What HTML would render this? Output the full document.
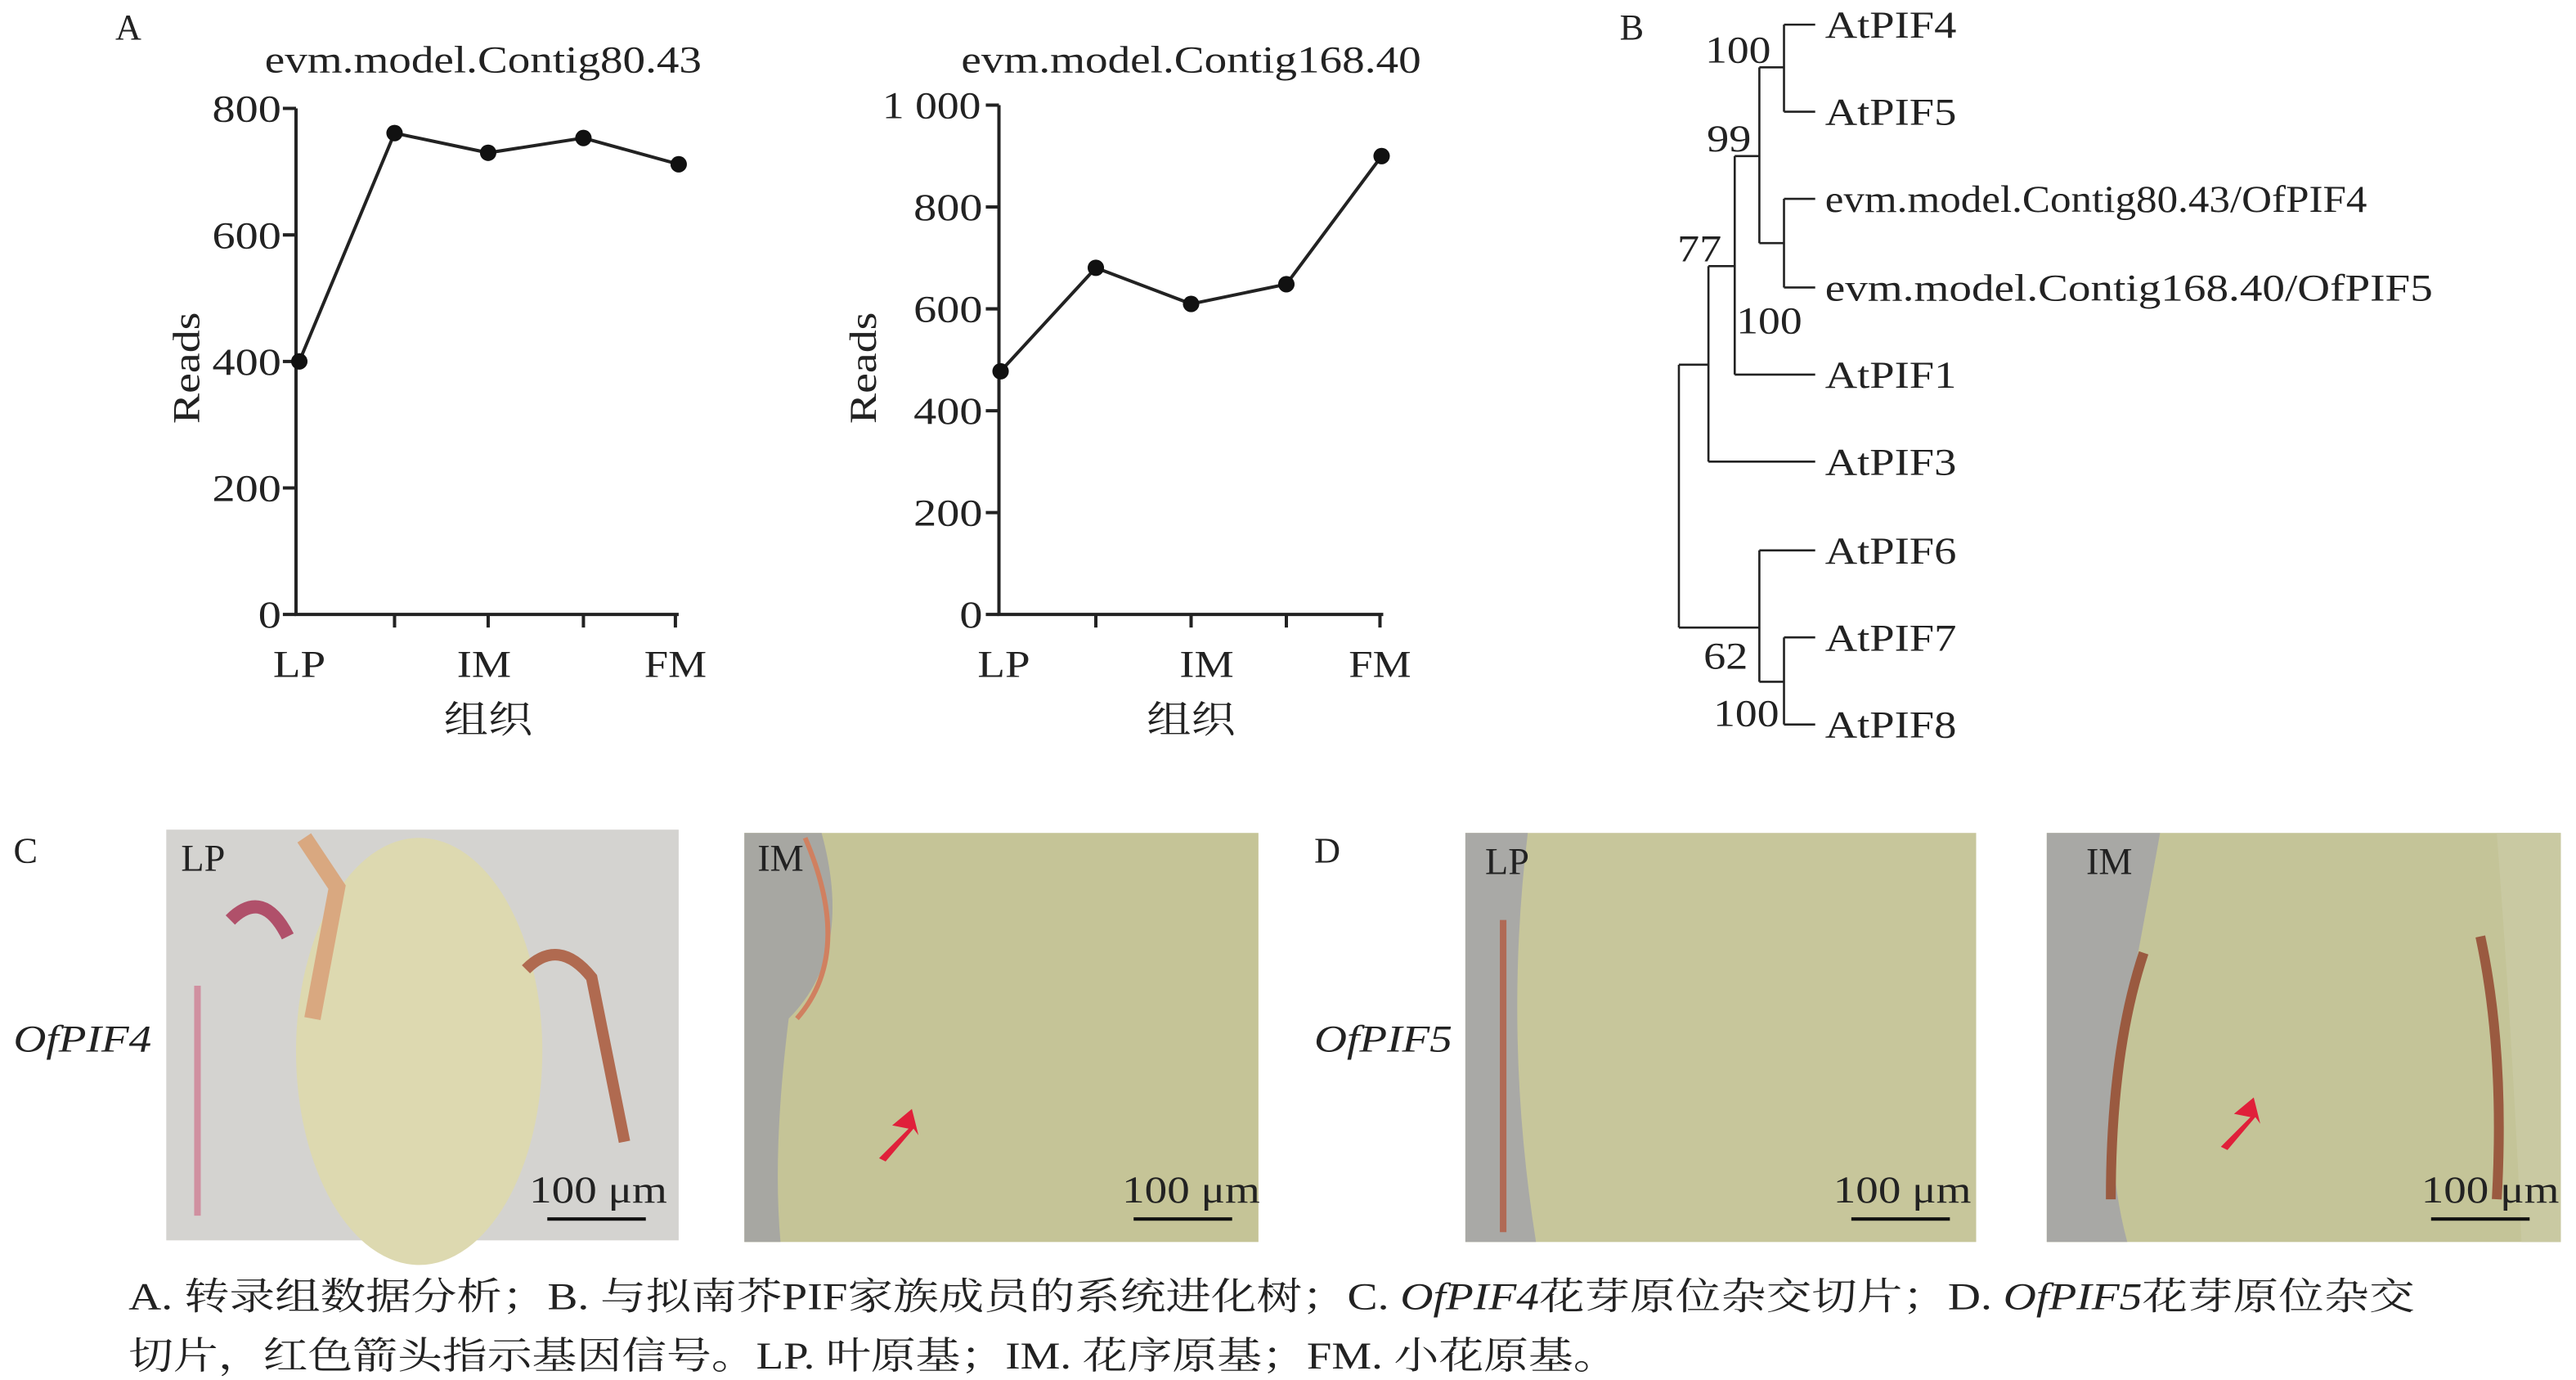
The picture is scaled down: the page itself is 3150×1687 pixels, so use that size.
<!DOCTYPE html>
<html><head><meta charset="utf-8"><style>
html,body{margin:0;padding:0;background:#fff;}
svg{display:block;}
text{font-family:"Liberation Serif","Noto Serif CJK SC",serif;fill:#222;}
</style></head><body>
<svg width="3150" height="1687" viewBox="0 0 1568 840" xmlns="http://www.w3.org/2000/svg">
<rect width="1568" height="840" fill="#fff"/>
<g font-size="22">
<text x="70" y="24">A</text>
<text x="986" y="24">B</text>
<text x="8" y="525">C</text>
<text x="800" y="525">D</text>
</g>
<!-- Chart 1 -->
<g stroke="#222" stroke-width="2" fill="none">
<path d="M180,66V374H413"/>
<path d="M172,66H180M172,143H180M172,220H180M172,297H180M172,374H180"/>
<path d="M240,374v8M297,374v8M355,374v8M411,374v8"/>
<polyline points="182,220 240,81 297,93 355,84 413,100"/>
</g>
<g fill="#111"><circle cx="182" cy="220" r="5"/><circle cx="240" cy="81" r="5"/><circle cx="297" cy="93" r="5"/><circle cx="355" cy="84" r="5"/><circle cx="413" cy="100" r="5"/></g>
<g font-size="23" lengthAdjust="spacingAndGlyphs">
<text x="161" y="44" textLength="266" lengthAdjust="spacingAndGlyphs">evm.model.Contig80.43</text>
<text x="129" y="74" textLength="42" lengthAdjust="spacingAndGlyphs">800</text>
<text x="129" y="151" textLength="42" lengthAdjust="spacingAndGlyphs">600</text>
<text x="129" y="228" textLength="42" lengthAdjust="spacingAndGlyphs">400</text>
<text x="129" y="305" textLength="42" lengthAdjust="spacingAndGlyphs">200</text>
<text x="157" y="382" textLength="14" lengthAdjust="spacingAndGlyphs">0</text>
<text x="166" y="412" textLength="32" lengthAdjust="spacingAndGlyphs">LP</text>
<text x="278" y="412" textLength="33" lengthAdjust="spacingAndGlyphs">IM</text>
<text x="392" y="412" textLength="38" lengthAdjust="spacingAndGlyphs">FM</text>
<text x="270" y="446" textLength="54" lengthAdjust="spacingAndGlyphs">组织</text>
<text transform="translate(121,258) rotate(-90)" textLength="68" lengthAdjust="spacingAndGlyphs">Reads</text>
</g>
<!-- Chart 2 -->
<g stroke="#222" stroke-width="2" fill="none">
<path d="M608,64V374H842"/>
<path d="M600,64H608M600,126H608M600,188H608M600,250H608M600,312H608M600,374H608"/>
<path d="M667,374v8M725,374v8M783,374v8M840,374v8"/>
<polyline points="609,226 667,163 725,185 783,173 841,95"/>
</g>
<g fill="#111"><circle cx="609" cy="226" r="5"/><circle cx="667" cy="163" r="5"/><circle cx="725" cy="185" r="5"/><circle cx="783" cy="173" r="5"/><circle cx="841" cy="95" r="5"/></g>
<g font-size="23">
<text x="585" y="44" textLength="280" lengthAdjust="spacingAndGlyphs">evm.model.Contig168.40</text>
<text x="537" y="72" textLength="60" lengthAdjust="spacingAndGlyphs">1 000</text>
<text x="556" y="134" textLength="42" lengthAdjust="spacingAndGlyphs">800</text>
<text x="556" y="196" textLength="42" lengthAdjust="spacingAndGlyphs">600</text>
<text x="556" y="258" textLength="42" lengthAdjust="spacingAndGlyphs">400</text>
<text x="556" y="320" textLength="42" lengthAdjust="spacingAndGlyphs">200</text>
<text x="584" y="382" textLength="14" lengthAdjust="spacingAndGlyphs">0</text>
<text x="595" y="412" textLength="32" lengthAdjust="spacingAndGlyphs">LP</text>
<text x="718" y="412" textLength="33" lengthAdjust="spacingAndGlyphs">IM</text>
<text x="821" y="412" textLength="38" lengthAdjust="spacingAndGlyphs">FM</text>
<text x="698" y="446" textLength="54" lengthAdjust="spacingAndGlyphs">组织</text>
<text transform="translate(533,258) rotate(-90)" textLength="68" lengthAdjust="spacingAndGlyphs">Reads</text>
</g>
<!-- Tree -->
<g stroke="#222" stroke-width="1.3" fill="none">
<path d="M1086,15H1105M1086,68H1105M1086,15V68"/>
<path d="M1086,121H1105M1086,175H1105M1086,121V175"/>
<path d="M1071,41H1086M1071,148H1086M1071,41V148"/>
<path d="M1056,95H1071M1056,228H1105M1056,95V228"/>
<path d="M1040,162H1056M1040,281H1105M1040,162V281"/>
<path d="M1086,388H1105M1086,441H1105M1086,388V441"/>
<path d="M1071,335H1105M1071,415H1086M1071,335V415"/>
<path d="M1022,222H1040M1022,382H1071M1022,222V382"/>
</g>
<g font-size="23">
<text x="1111" y="23" textLength="80" lengthAdjust="spacingAndGlyphs">AtPIF4</text>
<text x="1111" y="76" textLength="80" lengthAdjust="spacingAndGlyphs">AtPIF5</text>
<text x="1111" y="129" textLength="330" lengthAdjust="spacingAndGlyphs">evm.model.Contig80.43/OfPIF4</text>
<text x="1111" y="183" textLength="370" lengthAdjust="spacingAndGlyphs">evm.model.Contig168.40/OfPIF5</text>
<text x="1111" y="236" textLength="80" lengthAdjust="spacingAndGlyphs">AtPIF1</text>
<text x="1111" y="289" textLength="80" lengthAdjust="spacingAndGlyphs">AtPIF3</text>
<text x="1111" y="343" textLength="80" lengthAdjust="spacingAndGlyphs">AtPIF6</text>
<text x="1111" y="396" textLength="80" lengthAdjust="spacingAndGlyphs">AtPIF7</text>
<text x="1111" y="449" textLength="80" lengthAdjust="spacingAndGlyphs">AtPIF8</text>
<text x="1038" y="38" textLength="40" lengthAdjust="spacingAndGlyphs">100</text>
<text x="1039" y="92" textLength="27" lengthAdjust="spacingAndGlyphs">99</text>
<text x="1021" y="159" textLength="27" lengthAdjust="spacingAndGlyphs">77</text>
<text x="1057" y="203" textLength="40" lengthAdjust="spacingAndGlyphs">100</text>
<text x="1037" y="407" textLength="27" lengthAdjust="spacingAndGlyphs">62</text>
<text x="1043" y="442" textLength="40" lengthAdjust="spacingAndGlyphs">100</text>
</g>
<!-- Photos -->
<!-- C LP -->
<rect x="101" y="505" width="312" height="250" fill="#d4d3d0"/>
<ellipse cx="255" cy="640" rx="75" ry="130" fill="#ddd9b0"/>
<path d="M185,510 L205,540 L190,620" stroke="#d9a880" stroke-width="10" fill="none"/>
<path d="M140,560 q20,-20 35,10" stroke="#b0506a" stroke-width="8" fill="none"/>
<path d="M320,590 q20,-20 40,5 l20,100" stroke="#b06a50" stroke-width="7" fill="none"/>
<path d="M120,600 v140" stroke="#d090a0" stroke-width="4"/>
<!-- C IM -->
<rect x="453" y="507" width="313" height="249" fill="#c5c497"/>
<path d="M453,507 H500 Q520,580 480,620 Q470,700 475,756 H453Z" fill="#a7a7a2"/>
<path d="M490,510 Q520,580 485,620" stroke="#d08060" stroke-width="3" fill="none"/>
<!-- D LP -->
<rect x="892" y="507" width="311" height="249" fill="#c7c69b"/>
<path d="M892,507 H930 Q915,630 935,756 H892Z" fill="#a9a9a6"/>
<path d="M915,560 v190" stroke="#b06a55" stroke-width="4"/>
<!-- D IM -->
<rect x="1246" y="507" width="313" height="249" fill="#c4c498"/>
<path d="M1246,507 H1315 Q1300,590 1290,640 Q1280,700 1295,756 H1246Z" fill="#a8a8a5"/>
<path d="M1520,507 H1559 V756 H1535 Q1530,640 1520,507Z" fill="#c9c9a2"/>
<path d="M1305,580 Q1285,640 1285,730" stroke="#9a5a40" stroke-width="6" fill="none"/>
<path d="M1510,570 Q1525,640 1520,730" stroke="#9a5a40" stroke-width="6" fill="none"/>
<g font-size="23">
<text x="110" y="530">LP</text><text x="461" y="530">IM</text><text x="904" y="532">LP</text><text x="1270" y="532">IM</text>
<text x="322" y="732" textLength="84" lengthAdjust="spacingAndGlyphs">100 μm</text>
<text x="683" y="732" textLength="84" lengthAdjust="spacingAndGlyphs">100 μm</text>
<text x="1116" y="732" textLength="84" lengthAdjust="spacingAndGlyphs">100 μm</text>
<text x="1474" y="732" textLength="84" lengthAdjust="spacingAndGlyphs">100 μm</text>
<text x="8" y="640" font-style="italic" textLength="84" lengthAdjust="spacingAndGlyphs">OfPIF4</text>
<text x="800" y="640" font-style="italic" textLength="84" lengthAdjust="spacingAndGlyphs">OfPIF5</text>
</g>
<g stroke="#111" stroke-width="2"><path d="M333,742H393M690,742H750M1127,742H1187M1480,742H1540"/></g>
<path d="M535,705 l18,-18 -10,-2 12,-10 4,16 -3,-4 -17,20z" fill="#e0203a"/>
<path d="M1352,698 l18,-18 -10,-2 12,-10 4,16 -3,-4 -17,20z" fill="#e0203a"/>
<!-- Caption -->
<g font-size="23">
<text x="78" y="797" textLength="1392" lengthAdjust="spacingAndGlyphs">A. 转录组数据分析；B. 与拟南芥PIF家族成员的系统进化树；C. <tspan font-style="italic">OfPIF4</tspan>花芽原位杂交切片；D. <tspan font-style="italic">OfPIF5</tspan>花芽原位杂交</text>
<text x="78" y="833" textLength="907" lengthAdjust="spacingAndGlyphs">切片，红色箭头指示基因信号。LP. 叶原基；IM. 花序原基；FM. 小花原基。</text>
</g>
</svg>
</body></html>
